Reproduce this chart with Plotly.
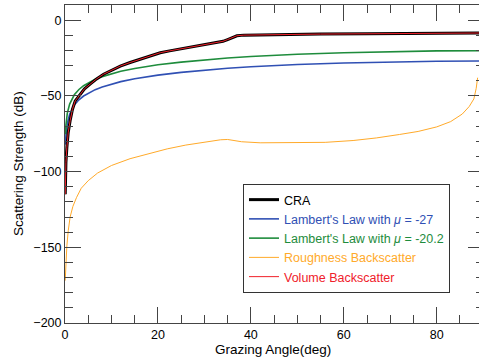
import plotly.graph_objects as go

# ---- data ----
cra_angle = [0.05, 0.1, 0.2, 0.4, 0.7, 1.1, 1.6, 2.2, 3.3, 4.2, 5.4, 6.8, 8.3, 10, 11.9, 14, 16.2,
             18.5, 20.5, 22.5, 24.8, 27, 29.5, 32.7, 34, 35, 36, 37, 38.5, 42, 46, 55, 65, 75, 85, 89.1]
cra_db = [-115, -104, -94, -84, -74, -66.4, -59, -53.3, -48.9, -45.3, -42.3, -38.8, -35.7, -33, -30.3,
          -28, -25.9, -23.6, -21.5, -20.3, -19, -17.8, -16.4, -14.9, -14, -12.8, -11.3, -10.3, -9.9,
          -9.7, -9.5, -9.2, -9.0, -8.8, -8.6, -8.5]

lam_angle = [0.1, 0.2, 0.5, 1, 2, 3, 4, 5, 6.5, 8, 10, 12, 15, 20, 25, 30, 35, 40, 50, 60, 70, 80, 89.1]
lam27_db = [-82.2, -76.1, -68.2, -62.2, -56.1, -52.6, -50.1, -48.2, -45.9, -44.1, -42.2, -40.6, -38.7,
            -36.3, -34.5, -33.0, -31.8, -30.8, -29.3, -28.3, -27.5, -27.1, -27.0]
lam20_db = [-75.4, -69.3, -61.4, -55.4, -49.3, -45.8, -43.3, -41.4, -39.1, -37.3, -35.4, -33.8, -31.9,
            -29.5, -27.7, -26.2, -25.0, -24.0, -22.5, -21.5, -20.7, -20.3, -20.2]

rough_angle = [0.05, 0.2, 0.4, 0.7, 1.1, 1.7, 2.5, 3.5, 5, 7, 10, 14, 18, 22, 26, 30, 33.5, 35, 36, 38,
               42, 50, 56, 62, 67, 72, 76, 80, 83, 85.5, 87, 88, 88.5, 88.8]
rough_db = [-172, -160, -149, -139, -130, -123, -117, -111, -106, -101, -96, -91.5, -88, -85, -82.5,
            -80.5, -79, -78.8, -79.2, -80.3, -81, -81, -80.7, -79.5, -77.8, -75.5, -73.5, -70.5, -67,
            -62, -57, -52, -45, -38]

vol_angle = [0.05, 0.1, 0.2, 0.4, 0.7, 1.1, 1.6, 2.2, 3.3, 4.2, 5.4, 6.8, 8.3, 10, 11.9, 14, 16.2,
             18.5, 20.5, 22.5, 24.8, 27, 29.5, 32.7, 34, 35, 36, 37, 38.5, 42, 46, 55, 65, 75, 85, 89.1]
vol_db = [-115, -104, -94, -84, -74, -66.4, -59, -53.3, -48.9, -45.3, -42.3, -38.8, -35.7, -33, -30.3,
          -28, -25.9, -23.6, -21.5, -20.3, -19, -17.8, -16.4, -14.9, -14, -12.8, -11.3, -10.3, -9.9,
          -9.7, -9.5, -9.2, -9.0, -8.8, -8.6, -8.5]

x_ticks = [0, 20, 40, 60, 80]
y_ticks = [-200, -150, -100, -50, 0]

BLUE = "#3050B4"
GREEN = "#1E8C3C"
ORANGE = "#FFAA2A"
RED = "#F0202A"
FONT = "Liberation Sans, Arial, Helvetica, sans-serif"


def lbl(text, color):
    return f'<span style="color:{color}">{text}</span>'


fig = go.Figure()
fig.add_trace(go.Scatter(x=lam_angle, y=lam27_db, mode="lines", line=dict(color=BLUE, width=1.6),
                         name=lbl("Lambert's Law with <i>μ</i> = -27", BLUE), legendrank=2))
fig.add_trace(go.Scatter(x=lam_angle, y=lam20_db, mode="lines", line=dict(color=GREEN, width=1.6),
                         name=lbl("Lambert's Law with <i>μ</i> = -20.2", GREEN), legendrank=3))
fig.add_trace(go.Scatter(x=rough_angle, y=rough_db, mode="lines", line=dict(color=ORANGE, width=1),
                         name=lbl("Roughness Backscatter", ORANGE), legendrank=4))
fig.add_trace(go.Scatter(x=cra_angle, y=cra_db, mode="lines", line=dict(color="black", width=3),
                         name=lbl("CRA", "black"), legendrank=1))
fig.add_trace(go.Scatter(x=vol_angle, y=vol_db, mode="lines", line=dict(color=RED, width=1),
                         name=lbl("Volume Backscatter", RED), legendrank=5))
fig.add_trace(go.Scatter(x=[], y=[], yaxis="y2", showlegend=False, hoverinfo="skip"))

L, T, B = 65, 5, 37
W, H = 479, 360
pw, ph = W - L, H - T - B


def px(xp):
    return (xp - L) / pw


def py(yp):
    return (H - B - yp) / ph


fig.add_shape(type="rect", xref="paper", yref="paper", layer="below",
              x0=px(246), x1=px(450), y0=py(293), y1=py(187),
              fillcolor="#a0a0a0", line=dict(width=0))

fig.add_annotation(text="Grazing Angle(deg)", xref="paper", yref="paper", x=px(273), y=py(349),
                   xanchor="center", yanchor="middle", showarrow=False,
                   font=dict(family=FONT, size=13.5, color="black"))
fig.add_annotation(text="Scattering Strength (dB)", xref="paper", yref="paper", x=px(18), y=py(164),
                   xanchor="center", yanchor="middle", showarrow=False, textangle=-90,
                   font=dict(family=FONT, size=13.5, color="black"))

axis_common = dict(showgrid=False, zeroline=False, ticks="inside", tickcolor="#444", tickwidth=1,
                   ticklen=16, showline=True, linecolor="#444", linewidth=1, automargin=False,
                   tickfont=dict(family=FONT, size=12.5, color="black"))

fig.update_layout(
    width=W, height=H,
    margin=dict(l=L, r=0, t=T, b=B, autoexpand=False),
    paper_bgcolor="white", plot_bgcolor="white",
    font=dict(family=FONT, size=13, color="black"),
    showlegend=True,
    legend=dict(x=px(243), y=py(184), xanchor="left", yanchor="top",
                bgcolor="white", bordercolor="#333", borderwidth=1,
                font=dict(family=FONT, size=12.5), traceorder="normal"),
    xaxis=dict(range=[0, 89.1], tickvals=x_ticks, mirror="ticks",
               minor=dict(dtick=5, tick0=0, ticks="inside", ticklen=8, tickcolor="#444"),
               **axis_common),
    yaxis=dict(range=[-200, 10], tickvals=y_ticks, mirror=False,
               minor=dict(dtick=10, tick0=0, ticks="inside", ticklen=8, tickcolor="#444"),
               **axis_common),
    yaxis2=dict(range=[-200, 10], overlaying="y", side="right", anchor="x", tickvals=y_ticks,
                showticklabels=False, showline=False, showgrid=False, zeroline=False, automargin=False,
                ticks="inside", ticklen=11, tickcolor="#444",
                minor=dict(dtick=10, tick0=0, ticks="inside", ticklen=3, tickcolor="#444")),
)

fig.write_html("out.html", config={"displayModeBar": False},
               post_script="document.body.style.margin='0';document.body.style.overflow='hidden';")
